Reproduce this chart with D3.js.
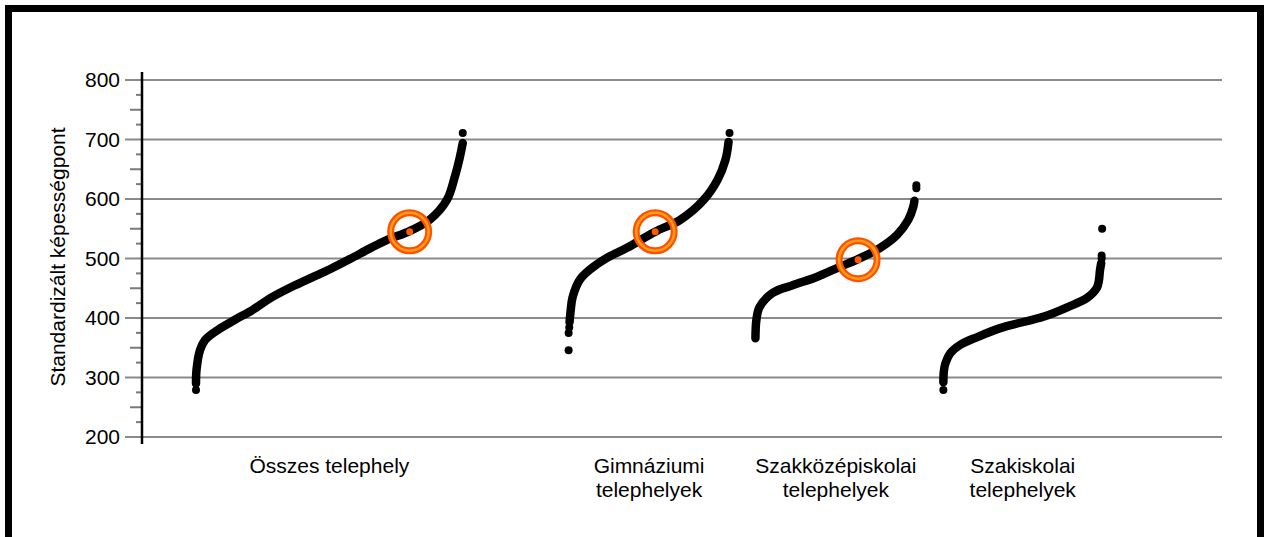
<!DOCTYPE html>
<html><head><meta charset="utf-8">
<script src="https://cdn.jsdelivr.net/npm/d3@7"></script>
<style>
html,body{margin:0;padding:0;background:#fff;}
svg{display:block;}
text{font-family:"Liberation Sans",Arial,sans-serif;fill:#000;}
</style></head>
<body>
<script>
// ---- data ----
const categories = [["Összes telephely"], ["Gimnáziumi", "telephelyek"], ["Szakközépiskolai", "telephelyek"], ["Szakiskolai", "telephelyek"]];
const yTicks = [200, 300, 400, 500, 600, 700, 800];
// rank span of each group on the common rank axis (0-1000)
const groupSpans = [[50, 297], [395, 544], [568, 717], [742, 889]];
// sorted site scores: [percentile rank within group, score]
const seriesAll = [[0,290],[0.2,313],[1.5,346],[3.4,363],[8.2,380],[14.6,397],[21.0,413],[28.5,435],[37.1,455],[43.4,468],[50.2,482],[57.7,499],[65.2,517],[71.5,531],[80.1,546],[87.6,565],[94.0,598],[97.0,637],[98.9,670],[100,694]];
const seriesGim = [[0.6,393],[1.3,413],[2.5,435],[6.9,464],[13.1,481],[23.8,501],[36.3,518],[53.8,545],[69.4,565],[83.8,598],[92.5,632],[97.5,666],[99.4,696]];
const seriesSzkoz = [[0,366],[0.6,397],[2.5,418],[10.6,442],[23.1,455],[38.1,469],[52.5,486],[63.8,499],[77.5,518],[88.1,540],[95.0,565],[98.1,587],[98.8,597]];
const seriesSzak = [[0,292],[0.3,310],[1.3,324],[4.4,341],[10.7,355],[21.4,368],[35.8,383],[48.4,392],[62.9,402],[78.0,418],[90.6,434],[96.9,452],[98.7,481],[99.4,492]];
// isolated extreme sites
const extremesAll = [[0,279],[100,711]];
const extremesGim = [[0,346],[0,375],[0.4,384],[100,711]];
const extremesSzkoz = [[100,618],[100,623]];
const extremesSzak = [[0,279],[99.7,500],[99.7,505],[100,550]];
// highlighted site (percentile, score) per group, null = none
const highlights = [[80.1,545],[53.8,545],[63.8,498],null];

const series = [seriesAll, seriesGim, seriesSzkoz, seriesSzak];
const extremes = [extremesAll, extremesGim, extremesSzkoz, extremesSzak];

// ---- layout ----
const W = 1265, H = 537;
const FS = "21px";
const svg = d3.select("body").append("svg").attr("width", W).attr("height", H);

svg.append("rect").attr("x", 8.5).attr("y", 8.5).attr("width", 1252).attr("height", 600)
  .attr("fill", "none").attr("stroke", "#000").attr("stroke-width", 7);

const x = d3.scaleLinear().domain([0, 1000]).range([142, 1222]);
const y = d3.scaleLinear().domain([200, 800]).range([437, 80]);

// gridlines
svg.append("g").selectAll("line").data(yTicks).join("line")
  .attr("x1", 125).attr("x2", 1222).attr("y1", d => y(d)).attr("y2", d => y(d))
  .attr("stroke", "#8a8a8a").attr("stroke-width", 2.2);

// minor ticks
const minor = d3.range(225, 800, 25).filter(v => v % 100 !== 0);
svg.append("g").selectAll("line").data(minor).join("line")
  .attr("x1", d => d % 50 === 0 ? 130 : 136).attr("x2", 142)
  .attr("y1", d => y(d)).attr("y2", d => y(d))
  .attr("stroke", "#7a7a7a").attr("stroke-width", 2);

// y axis
const yAxis = d3.axisLeft(y).tickValues(yTicks).tickSize(0).tickPadding(22);
const gy = svg.append("g").attr("transform", "translate(142,0)").call(yAxis);
gy.select(".domain").remove();
gy.selectAll("text").style("font-size", FS).attr("font-family", "Liberation Sans, Arial, sans-serif").attr("fill", "#000");
svg.append("line").attr("x1", 142).attr("x2", 142).attr("y1", 72).attr("y2", 444)
  .attr("stroke", "#000").attr("stroke-width", 2.5);

svg.append("text").attr("transform", "translate(65,257) rotate(-90)")
  .attr("text-anchor", "middle").style("font-size", FS).text("Standardizált képességpont");

// curves
const line = d3.line().curve(d3.curveCatmullRom.alpha(0.5));
series.forEach((s, i) => {
  const [a, b] = groupSpans[i];
  const px = p => x(a + (b - a) * p / 100);
  svg.append("path").attr("d", line(s.map(d => [px(d[0]), y(d[1])])))
    .attr("fill", "none").attr("stroke", "#000").attr("stroke-width", 8.5)
    .attr("stroke-linecap", "round").attr("stroke-linejoin", "round");
  svg.append("g").selectAll("circle").data(extremes[i]).join("circle")
    .attr("cx", d => px(d[0])).attr("cy", d => y(d[1])).attr("r", 4).attr("fill", "#000");
  const h = highlights[i];
  if (h) {
    const cx = px(h[0]), cy = y(h[1]);
    svg.append("circle").attr("cx", cx).attr("cy", cy).attr("r", 19)
      .attr("fill", "none").attr("stroke", "#ff5000").attr("stroke-width", 7);
    svg.append("circle").attr("cx", cx).attr("cy", cy).attr("r", 19)
      .attr("fill", "none").attr("stroke", "#ff9d1a").attr("stroke-width", 2.5);
    svg.append("circle").attr("cx", cx).attr("cy", cy).attr("r", 3.5).attr("fill", "#ff5a00");
  }
  // label
  const t = svg.append("text").attr("text-anchor", "middle").style("font-size", FS);
  categories[i].forEach((ln, k) => {
    t.append("tspan").attr("x", x((a + b) / 2)).attr("y", 473 + k * 24).text(ln);
  });
});
</script>
</body></html>
